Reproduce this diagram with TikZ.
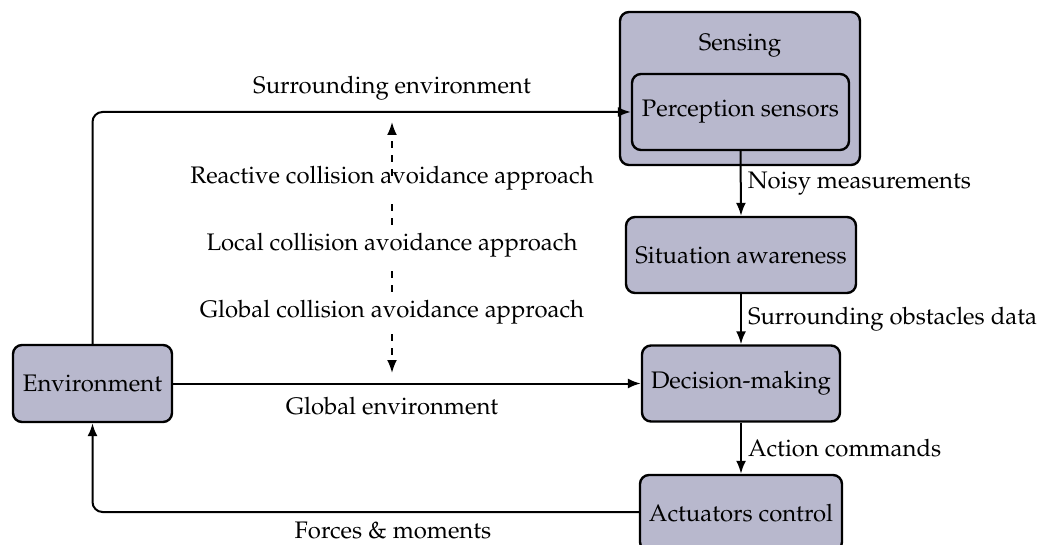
\documentclass[tikz,border=0pt]{standalone}
\usepackage[T1]{fontenc}
\usepackage{mathpazo}
\usetikzlibrary{arrows.meta}
\definecolor{boxfill}{RGB}{184,184,205}
\begin{document}
\begin{tikzpicture}[x=1pt,y=-1pt,
  font=\fontsize{23.9}{28}\selectfont,
  box/.style={draw=black, line width=2.4pt, fill=boxfill, rounded corners=9pt, inner sep=0pt},
  conn/.style={line width=2pt, -{Latex[length=13pt,width=10pt]}},
  dconn/.style={line width=2pt, dash pattern=on 7pt off 7pt, -{Latex[length=13pt,width=10pt]}},
  lbl/.style={inner sep=0pt}]
\useasboundingbox (0,0) rectangle (1055,545);
% boxes
\node[box, minimum width=240pt, minimum height=153pt] (sensing) at (740,88.5) {};
\node[lbl] (sensinglbl) at (740,46) {Sensing};
\node[box, minimum width=217pt, minimum height=76pt] (perc) at (740.5,112) {Perception sensors};
\node[box, minimum width=230pt, minimum height=76pt] (sit) at (741,255) {Situation awareness};
\node[box, minimum width=198pt, minimum height=76pt] (dec) at (741,383.5) {Decision-making};
\node[box, minimum width=202pt, minimum height=76pt] (act) at (741,513) {Actuators control};
\node[box, minimum width=159pt, minimum height=77pt] (env) at (92.5,383.5) {Environment};
% vertical chain
\draw[conn] (perc.south) -- (sit.north) node[lbl, midway, right=6pt] (l1) {Noisy measurements};
\draw[conn] (sit.south) -- (dec.north) node[lbl, midway, right=6pt] (l2) {Surrounding obstacles data};
\draw[conn] (dec.south) -- (act.north) node[lbl, midway, right=6pt] (l3) {Action commands};
% environment links
\draw[conn, rounded corners=10pt] (env.north) |- (perc.west);
\node[lbl] (surr) at (392,88) {Surrounding environment};
\draw[conn] (env.east) -- (dec.west);
\node[lbl] (glob) at (392,406) {Global environment};
\draw[conn, rounded corners=10pt] (act.west |- 0,512) -| (env.south);
\node[lbl] (forces) at (393,530) {Forces \& moments};
% dashed approach arrows
\node[lbl] (react) at (392,178) {Reactive collision avoidance approach};
\node[lbl] (local) at (392,245) {Local collision avoidance approach};
\node[lbl] (global) at (392,312) {Global collision avoidance approach};
\coordinate (topend) at (392,122);
\coordinate (botend) at (392,373);
\draw[dconn] ([yshift=-10pt]react.north) -- (topend);
\draw[line width=2pt, dash pattern=on 7pt off 7pt] ([yshift=8pt]local.north) -- ([yshift=-10pt]react.south);
\draw[line width=2pt, dash pattern=on 7pt off 7pt] ([yshift=8pt]global.north) -- ([yshift=-10pt]local.south);
\draw[dconn] ([yshift=-10pt]global.south) -- (botend);
\end{tikzpicture}
\end{document}
